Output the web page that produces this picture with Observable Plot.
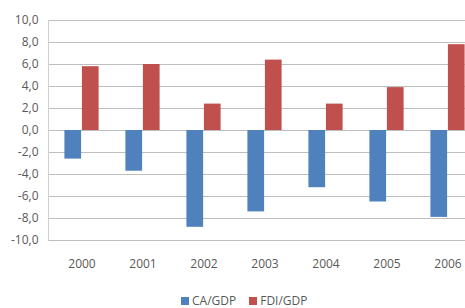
<!DOCTYPE html>
<html>
<head>
<meta charset="utf-8">
<script src="https://cdn.jsdelivr.net/npm/d3@7"></script>
<script src="https://cdn.jsdelivr.net/npm/@observablehq/plot@0.6"></script>
<style>
  html, body { margin: 0; padding: 0; background: #fff; overflow: hidden; }
  #wrap { position: relative; width: 465px; height: 308px; overflow: hidden; }
  #chart svg { max-width: none !important; display: block; }
  #legend { position: absolute; left: 181px; top: 294px; font-family: "Open Sans", sans-serif; font-size: 12px; line-height: 13px; color: #595959; display: flex; align-items: center; white-space: nowrap; }
  #legend .sw { display: inline-block; width: 8px; height: 8px; margin-right: 3px; }
  #legend .item { display: flex; align-items: center; margin-right: 13px; }
</style>
</head>
<body>
<div id="wrap"><div id="chart"></div><div id="legend"></div></div>
<script>
const years = ["2000", "2001", "2002", "2003", "2004", "2005", "2006"];
const caGdp = [-2.6, -3.7, -8.8, -7.4, -5.2, -6.5, -7.9];
const fdiGdp = [5.8, 6.0, 2.4, 6.4, 2.4, 3.9, 7.8];
const yTicks = [-10, -8, -6, -4, -2, 0, 2, 4, 6, 8, 10];
const seriesNames = ["CA/GDP", "FDI/GDP"];
const seriesColors = ["#4f81bd", "#c0504d"];

const rows = years.map((year, i) => ({year, ca: caGdp[i], fdi: fdiGdp[i]}));
const fmt = d => d.toFixed(1).replace(".", ",");

const chart = Plot.plot({
  width: 480,
  height: 285,
  marginLeft: 48,
  marginRight: 0,
  marginTop: 20,
  marginBottom: 45,
  style: {fontFamily: "Open Sans, sans-serif", fontSize: "12px", color: "#595959", background: "#fff", maxWidth: "none"},
  x: {domain: years, padding: 0, label: null, tickSize: 0, tickPadding: 19},
  y: {domain: [-10, 10], ticks: yTicks, tickFormat: fmt, label: null, tickSize: 0, tickPadding: 10},
  marks: [
    Plot.ruleY(yTicks, {stroke: "#bdbdbd", strokeWidth: 1}),
    Plot.frame({anchor: "left", stroke: "#cfcfcf"}),
    Plot.barY(rows, {x: "year", y: "ca", fill: seriesColors[0], insetLeft: 13.4, insetRight: 30.9}),
    Plot.barY(rows, {x: "year", y: "fdi", fill: seriesColors[1], insetLeft: 30.9, insetRight: 13.4})
  ]
});
document.getElementById("chart").appendChild(chart);

const legend = document.getElementById("legend");
seriesNames.forEach((name, i) => {
  const item = document.createElement("span");
  item.className = "item";
  const sw = document.createElement("span");
  sw.className = "sw";
  sw.style.background = seriesColors[i];
  item.appendChild(sw);
  item.appendChild(document.createTextNode(name));
  legend.appendChild(item);
});
</script>
</body>
</html>
